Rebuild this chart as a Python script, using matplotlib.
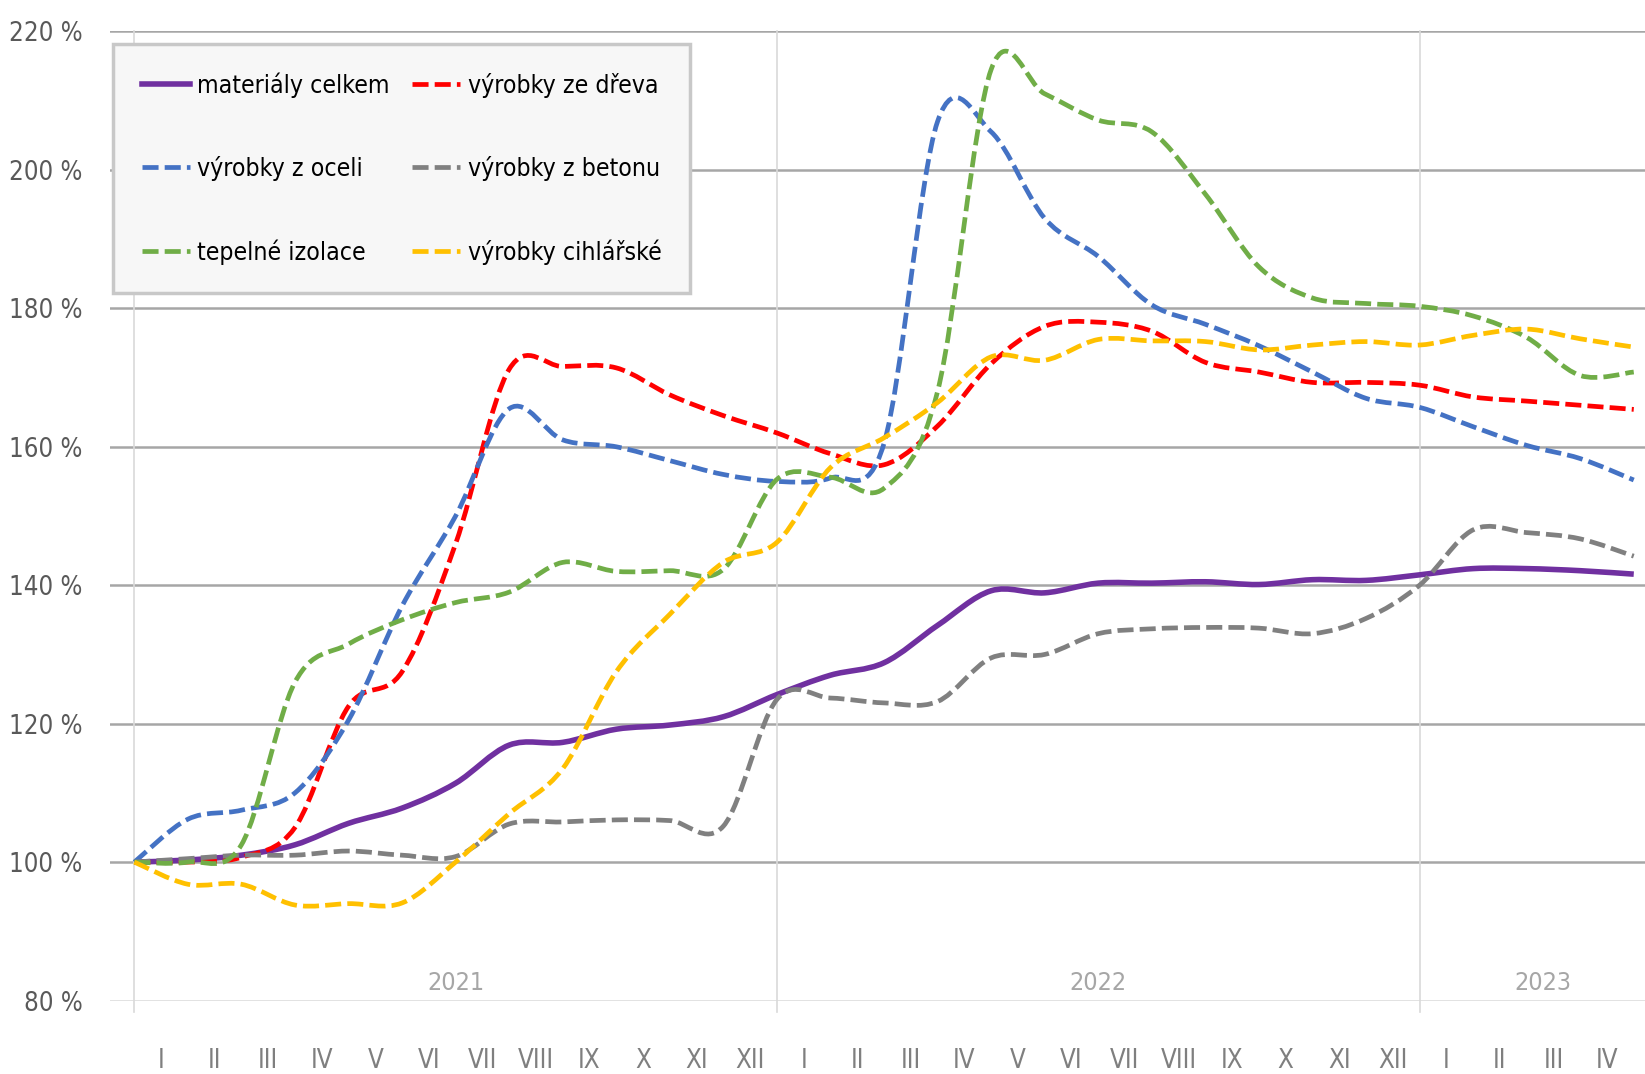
import numpy as np
import matplotlib
matplotlib.use('Agg')
import matplotlib.pyplot as plt
from matplotlib.path import Path
from matplotlib.patches import PathPatch
from matplotlib.lines import Line2D

plt.rcParams['font.family'] = ['DejaVu Sans']
plt.rcParams['font.stretch'] = 'condensed'

#%% Data (index, XII 2020 = 100 %)

months = ['I', 'II', 'III', 'IV', 'V', 'VI', 'VII', 'VIII', 'IX', 'X', 'XI', 'XII'] * 2 + ['I', 'II', 'III', 'IV']
years = ['2021', '2022', '2023']

materialy_celkem = [100, 100.3, 101, 102.5, 105.6, 107.8, 111.4, 116.9, 117.3, 119.2, 119.8, 121.0,
                    124.2, 127.0, 128.8, 134.2, 139.2, 138.9, 140.3, 140.3, 140.5, 140.1, 140.8, 140.7,
                    141.5, 142.4, 142.4, 142.1, 141.6]
vyrobky_dreva = [100, 100, 100.7, 105, 122.5, 127.5, 146, 171.2, 171.6, 171.4, 167.5, 164.5,
                 162, 159, 157.4, 163, 172, 177.4, 178, 176.7, 172.2, 170.8, 169.3, 169.3,
                 168.9, 167.2, 166.6, 166.0, 165.4]
vyrobky_oceli = [100, 106.2, 107.5, 110, 120.5, 137, 150, 165.5, 161, 160, 158, 156,
                 155, 155.5, 160.5, 207, 205.5, 193, 187.5, 180.5, 177.7, 174.6, 170.8, 167,
                 165.7, 162.9, 160.2, 158.3, 155.2]
vyrobky_betonu = [100, 100.5, 101, 101, 101.6, 101, 100.8, 105.5, 105.8, 106.1, 106, 105.2,
                  123.5, 123.7, 123, 123.2, 129.5, 130, 133, 133.7, 133.9, 133.8, 133, 135.2,
                  140, 148, 147.6, 146.7, 144.2]
tepelne_izolace = [100, 100, 102.5, 126, 131.5, 135, 137.5, 139, 143.3, 142, 142.1, 142.3,
                   155.3, 155.6, 154, 168, 214.5, 211, 207.2, 205.5, 196.5, 186, 181.5, 180.7,
                   180.3, 178.9, 175.8, 170.3, 170.8]
vyrobky_cihlarske = [100, 96.8, 96.8, 93.8, 94, 94.1, 100, 107, 113.5, 127.5, 135.8, 143.3,
                     146.2, 157, 161.3, 166.4, 173, 172.5, 175.5, 175.3, 175.2, 174, 174.7, 175.2,
                     174.7, 176.1, 177, 175.6, 174.4]

series = [
    ('materiály celkem', materialy_celkem, '#7030A0', '-'),
    ('výrobky ze dřeva', vyrobky_dreva, '#FF0000', '--'),
    ('výrobky z oceli', vyrobky_oceli, '#4472C4', '--'),
    ('výrobky z betonu', vyrobky_betonu, '#808080', '--'),
    ('tepelné izolace', tepelne_izolace, '#70AD47', '--'),
    ('výrobky cihlářské', vyrobky_cihlarske, '#FFC000', '--'),
]


def smooth_path(x, y):
    # Bezier curve through the points, like a smoothed Excel line
    n = len(x)
    verts = [(x[0], y[0])]
    codes = [Path.MOVETO]
    for i in range(n - 1):
        i0 = max(i - 1, 0)
        i3 = min(i + 2, n - 1)
        c1 = (x[i] + (x[i + 1] - x[i0]) / 6, y[i] + (y[i + 1] - y[i0]) / 6)
        c2 = (x[i + 1] - (x[i3] - x[i]) / 6, y[i + 1] - (y[i3] - y[i]) / 6)
        verts += [c1, c2, (x[i + 1], y[i + 1])]
        codes += [Path.CURVE4] * 3
    return Path(verts, codes)


#%% Figure

fig = plt.figure(figsize=(16.45, 10.74), dpi=100)
ax = fig.add_axes([0.067, 0.0684, 0.933, 0.9023])

dash = (0, (3.4, 1.3))
handles = {}
for name, vals, col, ls in series:
    x = np.arange(len(vals), dtype=float)
    y = np.asarray(vals, dtype=float)
    lw = 4 if ls == '-' else 3.4
    style = '-' if ls == '-' else dash
    patch = PathPatch(smooth_path(x, y), fill=False, edgecolor=col, lw=lw,
                      linestyle=style, capstyle='butt', joinstyle='round', zorder=3)
    ax.add_patch(patch)
    handles[name] = Line2D([], [], color=col, lw=lw, linestyle=style)

ax.set_xlim(-0.45, 28.21)
ax.set_ylim(80, 220)

# Axes and grid
for s in ax.spines.values():
    s.set_visible(False)
yt = list(range(80, 221, 20))
ax.set_yticks(yt)
ax.set_yticklabels([f'{v} %' for v in yt], color='#595959', fontsize=18.5)
ax.tick_params(axis='y', length=0, pad=20)
ax.yaxis.grid(True, color='#a6a6a6', lw=1.8)
ax.get_ygridlines()[0].set_color('#d9d9d9')
ax.set_axisbelow(True)

ax.set_xticks(np.arange(len(months)) + 0.5)
ax.set_xticklabels(months, color='#7f7f7f', fontsize=18.5)
ax.tick_params(axis='x', length=0, pad=34)

for b in [0, 12, 24]:
    ax.axvline(b, color='#d9d9d9', lw=1.2, ymin=-0.012, clip_on=False, zorder=1)

year_pos = [6, 18, 26.3]
for yr, xp in zip(years, year_pos):
    ax.text(xp, 0.018, yr, transform=ax.get_xaxis_transform(), ha='center', va='center',
            color='#a6a6a6', fontsize=18)

# Legend
order = ['materiály celkem', 'výrobky z oceli', 'tepelné izolace',
         'výrobky ze dřeva', 'výrobky z betonu', 'výrobky cihlářské']
leg = ax.legend([handles[k] for k in order], order, ncol=2, loc='upper left',
                bbox_to_anchor=(0.0689, 0.959), bbox_transform=fig.transFigure,
                borderaxespad=0, fontsize=17.8, frameon=True, fancybox=False, framealpha=1,
                facecolor='#f7f7f7', edgecolor='#c8c8c8', labelspacing=2.35,
                handlelength=1.95, handletextpad=0.3, columnspacing=0.9, borderpad=1.15)
leg.get_frame().set_linewidth(2.5)
leg.set_zorder(5)

fig.savefig('out.png', dpi=100)
